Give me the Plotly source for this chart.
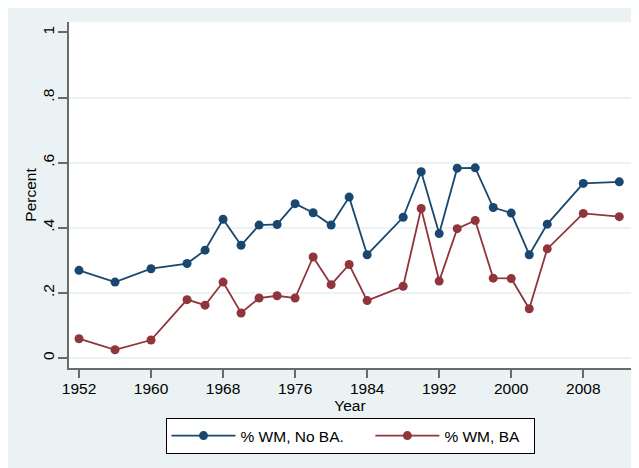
import plotly.graph_objects as go

years = [1952, 1956, 1960, 1964, 1966, 1968, 1970, 1972, 1974, 1976, 1978, 1980,
         1982, 1984, 1988, 1990, 1992, 1994, 1996, 1998, 2000, 2002, 2004, 2008, 2012]
wm_no_ba = [0.269, 0.233, 0.274, 0.290, 0.331, 0.426, 0.346, 0.408, 0.410, 0.474, 0.446, 0.408,
            0.494, 0.317, 0.432, 0.572, 0.382, 0.583, 0.584, 0.462, 0.445, 0.317, 0.411, 0.536, 0.541]
wm_ba = [0.059, 0.025, 0.055, 0.179, 0.162, 0.233, 0.138, 0.184, 0.191, 0.184, 0.310, 0.225,
         0.287, 0.176, 0.220, 0.459, 0.236, 0.397, 0.422, 0.245, 0.244, 0.151, 0.335, 0.444, 0.434]

x_ticks = [1952, 1960, 1968, 1976, 1984, 1992, 2000, 2008]
y_ticks = [0, 0.2, 0.4, 0.6, 0.8, 1]
y_tick_labels = ["0", ".2", ".4", ".6", ".8", "1"]
grid_vals = [0, 0.2, 0.4, 0.6, 0.8]

NAVY = "#1A476F"
MAROON = "#90353B"
BG = "#EAF2F3"
AXIS = "#6a6a6a"
FONT = "Liberation Sans"
FS = 15.5

# page is drawn with an 8px body margin
OFF = 8
W, H = 639 - OFF, 468 - OFF
ML, MT = 69 - OFF, 22 - OFF
PW, PH = 561.7, 345.7
MR, MB = W - ML - PW, H - MT - PH

NB = "\u00a0"
fig = go.Figure()
fig.add_trace(go.Scatter(x=years, y=wm_no_ba, mode="lines+markers",
                         name="% WM, No BA." + NB * 5,
                         line=dict(color=NAVY, width=1.8),
                         marker=dict(color=NAVY, size=9), yaxis="y"))
fig.add_trace(go.Scatter(x=years, y=wm_ba, mode="lines+markers",
                         name="% WM, BA" + NB * 2,
                         line=dict(color=MAROON, width=1.8),
                         marker=dict(color=MAROON, size=9), yaxis="y"))
# invisible trace to activate the grid axis
fig.add_trace(go.Scatter(x=[years[0]], y=[wm_ba[0]], yaxis="y2", mode="markers",
                         marker=dict(opacity=0), showlegend=False, hoverinfo="skip"))

yr = [-0.031, 1.032]
tf = dict(family=FONT, size=FS, color="black")
fig.update_layout(
    template="none",
    width=W, height=H,
    margin=dict(l=ML, r=MR, t=MT, b=MB, pad=0),
    paper_bgcolor=BG, plot_bgcolor="white",
    font=tf,
    showlegend=True,
    xaxis=dict(range=[1950.89, 2013.3], tickvals=x_ticks, showgrid=False, zeroline=False,
               showline=True, linecolor=AXIS, linewidth=1.7, automargin=False,
               ticks="outside", ticklen=8, tickwidth=1.5, tickcolor=AXIS,
               ticklabelstandoff=-2,
               title=dict(text="Year", standoff=0, font=tf), tickfont=tf),
    yaxis=dict(range=yr, tickvals=y_ticks, ticktext=y_tick_labels, tickangle=-90,
               showgrid=False, zeroline=False, automargin=False,
               showline=True, linecolor=AXIS, linewidth=1.7,
               ticks="outside", ticklen=9, tickwidth=1.5, tickcolor=AXIS,
               ticklabelstandoff=-2,
               title=dict(text="Percent", standoff=0, font=tf), tickfont=tf),
    yaxis2=dict(range=yr, overlaying="y", tickvals=grid_vals, showticklabels=False,
                showgrid=True, gridcolor=BG, gridwidth=1.5, zeroline=False, showline=False,
                ticks=""),
    legend=dict(orientation="h", x=0.5, xanchor="center",
                y=(367.7 - 417.7) / PH, yanchor="top",
                bgcolor="white", bordercolor="black", borderwidth=1,
                font=tf, itemwidth=64),
)

fig.write_html("out.html")
